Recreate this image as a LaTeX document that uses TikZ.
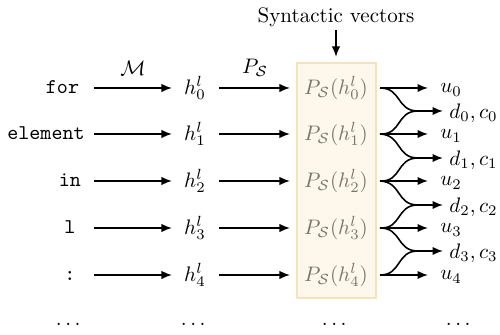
\documentclass[tikz,border=0pt]{standalone}
\usepackage{amsmath,amssymb}
\usetikzlibrary{arrows.meta}
\definecolor{boxfill}{RGB}{253,248,235}
\definecolor{boxline}{RGB}{243,228,190}
\definecolor{projtext}{RGB}{120,118,108}
\begin{document}
\begin{tikzpicture}[x=0.476pt,y=-0.476pt,
  arr/.style={-{Latex[length=5pt,width=4pt]},line width=0.75pt},
  crv/.style={line width=0.75pt},
  tok/.style={inner sep=0pt,font=\ttfamily},
  lab/.style={inner sep=0pt},
  proj/.style={inner sep=0pt,text=projtext},
  outl/.style={inner sep=0pt,anchor=west}]
\useasboundingbox (0,0) rectangle (500,335);
% box
\node[draw=boxline,fill=boxfill,line width=0.6pt,minimum width=79*0.476pt,minimum height=235*0.476pt,inner sep=0pt] (box) at (336.5,180.5) {};
\node[lab] (title) at (336,17) {Syntactic vectors};
\coordinate (tarr) at (336,30);
\coordinate (barr) at (336,57);
\draw[arr] (tarr) -- (barr);
% rows
\foreach \i/\y/\t/\tx in {0/88/for/62.5,1/134/element/46,2/181/in/70,3/228/l/70,4/275/:/70}{
  \node[tok] (t\i) at (\tx,\y) {\strut\t};
  \coordinate (a\i) at (94,\y);
  \coordinate (b\i) at (172,\y);
  \node[lab] (h\i) at (195,\y) {$h^l_{\i}$};
  \coordinate (c\i) at (219,\y);
  \coordinate (e\i) at (290,\y);
  \node[proj] (p\i) at (336,\y) {$P_{\mathcal{S}}(h^l_{\i})$};
  \coordinate (o\i) at (380,\y);
  \coordinate (q\i) at (428,\y);
  \node[outl] (u\i) at (440,\y+2) {$u_{\i}$};
  \draw[arr] (a\i) -- (b\i);
  \draw[arr] (c\i) -- (e\i);
  \draw[arr] (o\i) -- (q\i);
}
\foreach \i/\y in {0/111,1/158,2/205,3/251}{
  \pgfmathtruncatemacro{\j}{\i+1}
  \coordinate (m\i) at (418,\y);
  \coordinate (n\i) at (443,\y);
  \node[outl] (d\i) at (449,\y+2) {$d_{\i}, c_{\i}$};
  \draw[crv] (o\i) .. controls (402,\y-23) and (396,\y) .. (m\i);
  \draw[crv] (o\j) .. controls (402,\y+24) and (396,\y) .. (m\i);
  \draw[arr] (m\i) -- (n\i);
}
\node[lab] (M) at (133,68) {$\mathcal{M}$};
\node[lab] (PS) at (255,68) {$P_{\mathcal{S}}$};
\foreach \x/\n in {70/d1,195/d2,336/d3,460/d4}{
  \node[lab] (\n) at (\x,324) {$\dots$};
}
\end{tikzpicture}
\end{document}
